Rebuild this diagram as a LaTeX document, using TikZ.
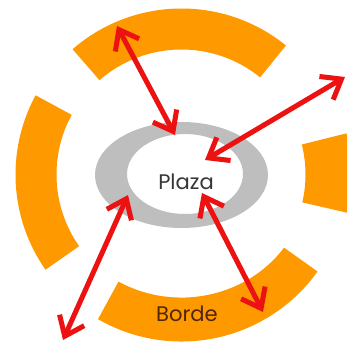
\documentclass[tikz,border=0pt]{standalone}
\usepackage{fontspec}
\setmainfont{Poppins}
\usetikzlibrary{arrows.meta,calc}
\definecolor{orng}{RGB}{255,153,0}
\definecolor{ringgray}{RGB}{190,190,190}
\definecolor{arrred}{RGB}{236,18,18}
\definecolor{plazatxt}{RGB}{55,55,55}
\definecolor{bordetxt}{RGB}{80,38,5}
\tikzset{
  seg/.style={fill=orng},
  link/.style={draw=arrred, line width=4.3pt,
    {Straight Barb[length=15pt,width=23pt]}-{Straight Barb[length=15pt,width=23pt]}},
  lbl/.style={font=\fontsize{18}{21}\selectfont, inner sep=0pt}
}
\begin{document}
\begin{tikzpicture}[scale=0.03]
\useasboundingbox (0,0) rectangle (347,347);
\clip (0,0) rectangle (347,347);
\fill[white] (0,0) rectangle (347,347);
\coordinate (c) at (181.5,172.5);
% orange segments
\fill[seg] ($(c)+(51:166)$) arc[start angle=51,end angle=131,radius=166]
  -- ($(c)+(131:125)$) arc[start angle=131,end angle=51,radius=125] -- cycle;
\fill[seg] ($(c)+(151.5:166)$) arc[start angle=151.5,end angle=215,radius=166]
  -- ($(c)+(215:125)$) arc[start angle=215,end angle=151.5,radius=125] -- cycle;
\fill[seg] ($(c)+(-13:170)$) arc[start angle=-13,end angle=14,radius=170]
  -- ($(c)+(14:124)$) arc[start angle=14,end angle=-13,radius=124] -- cycle;
\fill[seg] ($(c)+(240:167)$) arc[start angle=240,end angle=324.5,radius=167]
  -- ($(c)+(324.5:126)$) arc[start angle=324.5,end angle=240,x radius=126,y radius=119] -- cycle;
% gray ring
\fill[ringgray, even odd rule] (181.5,172) ellipse[x radius=86.5,y radius=53]
  (185,173) ellipse[x radius=58,y radius=40];
% labels
\node[lbl, text=plazatxt] (plaza) at (186,165) {Plaza};
\node[lbl, text=bordetxt] (borde) at (187,33) {Borde};
% arrow ends
\coordinate (a1o) at (117,321);
\coordinate (a1i) at (175,212);
\coordinate (a2o) at (345,270);
\coordinate (a2i) at (205,187);
\coordinate (a3i) at (128,152);
\coordinate (a3o) at (63,7);
\coordinate (a4i) at (202,154);
\coordinate (a4o) at (263,35);
\draw[link] (a1o) -- (a1i);
\draw[link] (a2o) -- (a2i);
\draw[link] (a3i) -- (a3o);
\draw[link] (a4i) -- (a4o);
\end{tikzpicture}
\end{document}
